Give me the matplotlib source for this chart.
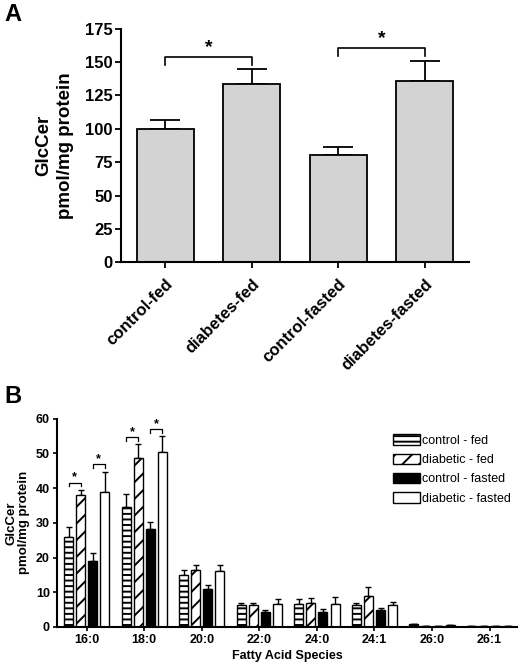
import numpy as np
import matplotlib
matplotlib.use("Agg")
import matplotlib.pyplot as plt

plt.rcParams['font.family'] = ['Liberation Sans', 'DejaVu Sans']
plt.rcParams['hatch.linewidth'] = 1.4

# panel A data
groups_a = ['control-fed', 'diabetes-fed', 'control-fasted', 'diabetes-fasted']
glccer_a = [99.5, 133.5, 80.5, 136.0]
glccer_a_err = [7.0, 11.0, 6.0, 15.0]

# panel B data
species = ['16:0', '18:0', '20:0', '22:0', '24:0', '24:1', '26:0', '26:1']
series_names = ['control - fed', 'diabetic - fed', 'control - fasted', 'diabetic - fasted']
control_fed = [26.0, 34.7, 15.0, 6.2, 6.7, 6.3, 0.8, 0.3]
control_fed_err = [2.7, 3.6, 1.3, 0.8, 1.3, 0.5, 0.1, 0.05]
diabetic_fed = [37.9, 48.6, 16.3, 6.4, 6.9, 8.8, 0.3, 0.3]
diabetic_fed_err = [1.5, 4.0, 1.5, 0.6, 1.4, 2.7, 0.05, 0.05]
control_fasted = [19.1, 28.3, 11.0, 4.4, 4.3, 4.9, 0.2, 0.3]
control_fasted_err = [2.1, 1.8, 1.1, 0.4, 0.9, 0.4, 0.05, 0.05]
diabetic_fasted = [38.9, 50.3, 16.1, 6.6, 6.5, 6.3, 0.5, 0.3]
diabetic_fasted_err = [5.9, 4.6, 1.7, 1.4, 2.2, 1.0, 0.1, 0.05]

# significance pairs: (group index, bar a, bar b)
sig_a = [(0, 1), (2, 3)]
sig_b = [(0, 0, 1), (0, 2, 3), (1, 0, 1), (1, 2, 3)]

fig = plt.figure(figsize=(5.31, 6.69), dpi=100)

# ---------------- panel A ----------------
axA = fig.add_axes([0.228, 0.608, 0.655, 0.349])
xa = np.arange(len(groups_a))
axA.bar(xa, glccer_a, width=0.66, color='#d3d3d3', edgecolor='black', linewidth=1.3, zorder=2)
axA.errorbar(xa, glccer_a, yerr=[np.zeros(len(xa)), glccer_a_err], fmt='none',
             ecolor='black', elinewidth=1.3, capsize=11, capthick=1.3, zorder=1)
axA.set_xlim(-0.51, 3.51)
axA.set_ylim(0, 175)
axA.set_yticks(np.arange(0, 176, 25))
axA.set_xticks(xa)
axA.set_xticklabels(groups_a, rotation=45, ha='right', rotation_mode='anchor',
                    fontsize=12, fontweight='bold')
for lab in axA.get_yticklabels():
    lab.set_fontweight('bold')
    lab.set_fontsize(12)
axA.tick_params(axis='both', width=1.3, length=4, pad=2)
axA.tick_params(axis='x', pad=6)
for s in ['top', 'right']:
    axA.spines[s].set_visible(False)
for s in ['left', 'bottom']:
    axA.spines[s].set_linewidth(1.5)
axA.set_ylabel('GlcCer\npmol/mg protein', fontsize=13.5, fontweight='bold', linespacing=1.35,
               labelpad=8)

for a, b in sig_a:
    top = max(glccer_a[a] + glccer_a_err[a], glccer_a[b] + glccer_a_err[b]) + 9.5
    axA.plot([a, a, b, b], [top - 6, top, top, top - 6], color='black', lw=1.2)
    axA.text((a + b) / 2, top + 0.5, '*', ha='center', va='bottom', fontsize=14, fontweight='bold')

fig.text(0.008, 0.995, 'A', fontsize=17, fontweight='bold', va='top')

# ---------------- panel B ----------------
axB = fig.add_axes([0.107, 0.063, 0.867, 0.311])
xb = np.arange(len(species))
vals = [control_fed, diabetic_fed, control_fasted, diabetic_fasted]
errs = [control_fed_err, diabetic_fed_err, control_fasted_err, diabetic_fasted_err]
faces = ['white', 'white', 'black', 'white']
hatches = ['---', '//', None, None]
step = 0.21
bw = 0.157
for k in range(4):
    pos = xb + (k - 1.5) * step
    axB.bar(pos, vals[k], width=bw, color=faces[k], edgecolor='black', hatch=hatches[k],
            linewidth=1.0, label=series_names[k], zorder=2)
    axB.errorbar(pos, vals[k], yerr=[np.zeros(len(xb)), errs[k]], fmt='none',
                 ecolor='black', elinewidth=1.0, capsize=2.2, capthick=1.0, zorder=1)

for g, a, b in sig_b:
    xa_ = g + (a - 1.5) * step
    xb_ = g + (b - 1.5) * step
    top = max(vals[a][g] + errs[a][g], vals[b][g] + errs[b][g]) + 2.2
    axB.plot([xa_, xa_, xb_, xb_], [top - 1.1, top, top, top - 1.1], color='black', lw=0.9)
    axB.text((xa_ + xb_) / 2, top - 0.3, '*', ha='center', va='bottom', fontsize=9, fontweight='bold')

axB.set_xlim(-0.52, 7.48)
axB.set_ylim(0, 60)
axB.set_yticks(np.arange(0, 61, 10))
axB.set_xticks(xb)
axB.set_xticklabels(species, fontsize=9, fontweight='bold')
for lab in axB.get_yticklabels():
    lab.set_fontweight('bold')
    lab.set_fontsize(9)
axB.tick_params(axis='both', width=1.2, length=3, pad=2)
for s in ['top', 'right']:
    axB.spines[s].set_visible(False)
for s in ['left', 'bottom']:
    axB.spines[s].set_linewidth(1.5)
axB.set_ylabel('GlcCer\npmol/mg protein', fontsize=9.5, fontweight='bold', linespacing=1.1)
axB.set_xlabel('Fatty Acid Species', fontsize=9, fontweight='bold', labelpad=3)
axB.legend(loc='upper left', bbox_to_anchor=(0.72, 0.95), frameon=False, fontsize=9,
           handlelength=2.1, handleheight=0.9, handletextpad=0.2, labelspacing=0.55,
           borderaxespad=0.0)

fig.text(0.008, 0.425, 'B', fontsize=17, fontweight='bold', va='top')

fig.savefig('out.png', dpi=100)
